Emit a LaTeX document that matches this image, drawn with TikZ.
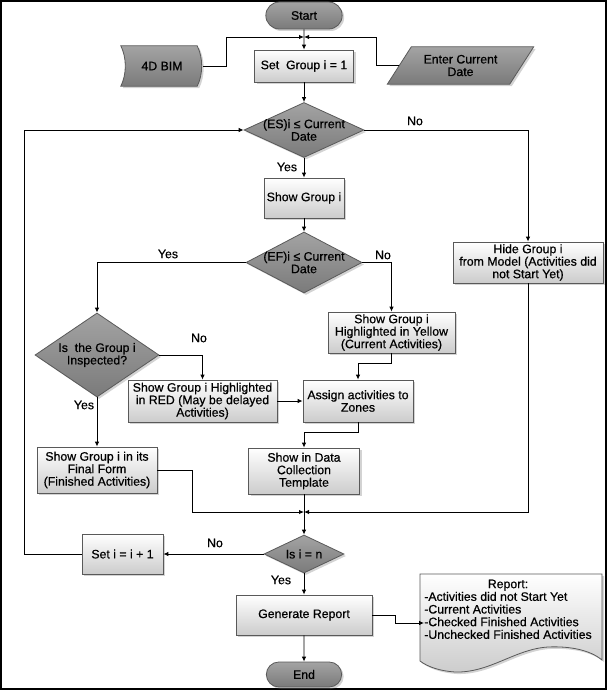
\documentclass[tikz,border=0pt]{standalone}
\usepackage{fontspec}
\setmainfont{Liberation Sans}[FakeBold=0.6]
\usetikzlibrary{arrows.meta,shapes.geometric,shapes.misc,shadows,backgrounds}

\begin{document}
\begin{tikzpicture}[x=1pt, y=-1pt,
    font=\fontsize{12.3}{12.5}\selectfont,
    line/.style={draw, line width=0.9pt, -{Latex[length=5pt,width=4.5pt]}},
    shade/.style={drop shadow={shadow xshift=2pt, shadow yshift=-2pt, opacity=0.35}},
    lightfill/.style={draw=black!65, line width=0.8pt, top color=white, bottom color=black!20, shade},
    darkfill/.style={draw=black!65, line width=0.8pt, top color=black!36, bottom color=black!52, shade},
    procbox/.style={rectangle, lightfill, align=center, inner sep=1pt},
    termbox/.style={rounded rectangle, darkfill},
    decision/.style={diamond, darkfill, inner sep=0pt},
    txt/.style={align=center, inner sep=0pt},
    lbl/.style={inner sep=0pt}]
    \useasboundingbox (0,0) rectangle (607,690);
    \draw[line width=2pt] (1,1) rectangle (606,689);

    % top row
    \node[termbox, minimum width=83, minimum height=27] (start) at (304,15.5) {Start};
    \node[procbox, minimum width=99, minimum height=32] (setone) at (304,66) {Set\ \ Group i = 1};
    \node[txt, minimum width=82, minimum height=40] (bim) at (162,66) {4D BIM};
    \node[txt, minimum width=122, minimum height=37] (date) at (460.5,65.5) {Enter Current\\Date};
    \coordinate (jtop) at (304,37);

    % main column
    \node[decision, minimum width=120, minimum height=55] (es) at (304,130) {};
    \node[txt] (es-t) at (es) {(ES)i ≤ Current\\Date};
    \node[procbox, minimum width=80, minimum height=40] (showg) at (304,198) {Show Group i};
    \node[decision, minimum width=116, minimum height=61] (ef) at (304,262.5) {};
    \node[txt] (ef-t) at (ef) {(EF)i ≤ Current\\Date};
    \node[procbox, minimum width=150, minimum height=41] (hide) at (528,262.5) {Hide Group i\\from Model (Activities did\\not Start Yet)};
    \node[decision, minimum width=124, minimum height=84] (insp) at (97,355) {};
    \node[txt] (insp-t) at (insp) {Is\ \ the Group i\\Inspected?};
    \node[procbox, minimum width=127, minimum height=41] (yellow) at (391.5,332.5) {Show Group i\\Highlighted in Yellow\\(Current Activities)};
    \node[procbox, minimum width=149, minimum height=42] (red) at (202.5,401) {Show Group i Highlighted\\in RED (May be delayed\\Activities)};
    \node[procbox, minimum width=110, minimum height=42] (assign) at (358,401) {Assign activities to\\Zones};
    \node[procbox, minimum width=120, minimum height=46] (final) at (97,470) {Show Group i in its\\Final Form\\(Finished Activities)};
    \node[procbox, minimum width=111, minimum height=46] (data) at (304,471) {Show in Data\\Collection\\Template};
    \coordinate (jmid) at (304,512);
    \node[decision, minimum width=80, minimum height=38] (isn) at (304,554) {};
    \node[txt] (isn-t) at (isn) {Is i = n};
    \node[procbox, minimum width=81, minimum height=40] (inc) at (122.5,554) {Set i = i + 1};
    \node[procbox, minimum width=136, minimum height=40] (gen) at (304,615) {Generate Report};
    \node[termbox, minimum width=82, minimum height=25] (endn) at (304,674.5) {End};
    \node[txt] (report) at (508,611) {\begin{tabular}{@{}l@{}}\multicolumn{1}{@{}c@{}}{Report:}\\-Activities did not Start Yet\\-Current Activities\\-Checked Finished Activities\\-Unchecked Finished Activities\end{tabular}};

    % shapes behind the text nodes
    \begin{scope}[on background layer]
        \path[darkfill] (bim.north west) .. controls +(6,12) and +(6,-12) .. (bim.south west)
            -- ([xshift=-6pt]bim.south east) .. controls +(6,-12) and +(6,12) .. ([xshift=-6pt]bim.north east) -- cycle;
        \path[darkfill] ([xshift=12pt]date.north west) -- ([xshift=12pt]date.north east)
            -- ([xshift=-12pt]date.south east) -- ([xshift=-12pt]date.south west) -- cycle;
        \path[lightfill] (420,574) -- (602,574) -- (602,660) .. controls (590,650) and (570,646) .. (548,647)
            .. controls (515,649) and (490,673) .. (455,672) .. controls (440,671) and (428,667) .. (420,661) -- cycle;
    \end{scope}

    % connectors
    \draw[line] (start) -- (setone);
    \draw[line] (bim.east) -- ++(23,0) |- (jtop);
    \draw[line] (date.west) -- ++(-23,0) |- (jtop);
    \draw[line] (setone) -- (es);
    \draw[line] (es.east) -| (hide.north);
    \draw[line] (es) -- (showg);
    \draw[line] (showg) -- (ef);
    \draw[line] (ef.west) -| (insp.north);
    \draw[line] (ef.east) -| (yellow.north);
    \draw[line] (yellow.south) -- ++(0,10) -| (assign.north);
    \draw[line] (assign.south) -- ++(0,10) -| (data.north);
    \draw[line] (insp.east) -| (red.north);
    \draw[line] (red) -- (assign);
    \draw[line] (insp) -- (final);
    \draw[line] (final.east) -- ++(35,0) |- (jmid);
    \draw[line] (hide.south) |- (jmid);
    \draw[line] (data) -- (isn);
    \draw[line] (isn) -- (inc);
    \draw[line] (inc.west) -- ++(-57,0) |- (es.west);
    \draw[line] (isn) -- (gen);
    \draw[line] (gen) -- (endn);
    \draw[line] (gen.east) -- ++(23,0) |- ([yshift=-12pt]report.west);

    % yes / no
    \foreach \x/\y/\t [count=\k] in {415/121/No, 287/167/Yes, 168/254/Yes, 383/255/No,
        199/338/No, 84/405/Yes, 215/543/No, 281/580/Yes}
        \node[lbl] (lbl\k) at (\x,\y) {\t};
\end{tikzpicture}
\end{document}
